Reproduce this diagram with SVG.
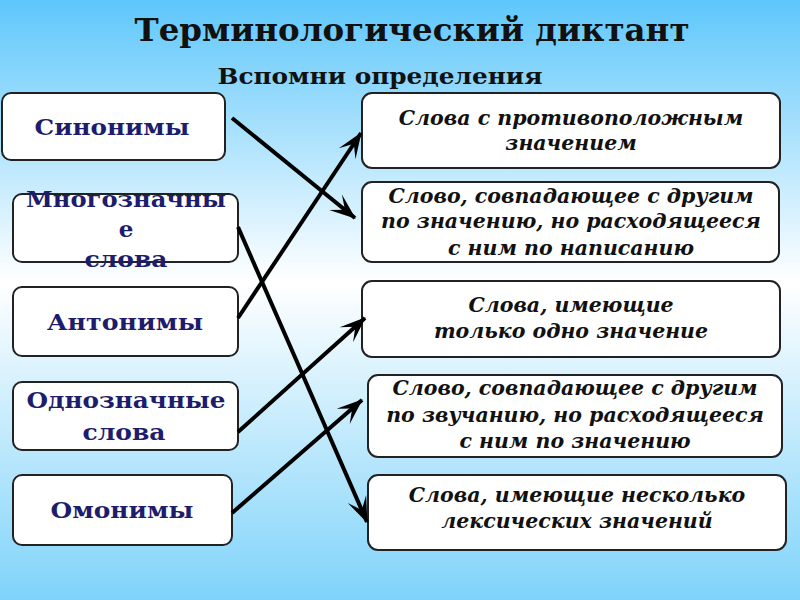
<svg xmlns="http://www.w3.org/2000/svg" width="800" height="600" viewBox="0 0 800 600">
<defs>
<linearGradient id="bg" x1="0" y1="0" x2="0" y2="1">
<stop offset="0" stop-color="#5ec7fb"/>
<stop offset="0.47" stop-color="#ffffff"/>
<stop offset="1" stop-color="#7fd3fa"/>
</linearGradient>
<marker id="ah" viewBox="-26 -11 28 22" refX="0" refY="0" markerWidth="28" markerHeight="22" markerUnits="userSpaceOnUse" orient="auto">
<path d="M1,0 L-25,-10 L-13,0 L-25,10 Z" fill="#000"/>
</marker>
<style>
.box{fill:#fff;stroke:#222;stroke-width:2}
.lt{font-family:"DejaVu Serif","Liberation Serif",serif;font-weight:bold;font-size:23px;fill:#1d1d6b;text-anchor:middle}
.rt{font-family:"DejaVu Serif","Liberation Serif",serif;font-weight:bold;font-style:italic;font-size:20.5px;fill:#111;text-anchor:middle}
.con{stroke:#000;stroke-width:4;fill:none;marker-end:url(#ah)}
.title{font-family:"DejaVu Serif","Liberation Serif",serif;font-weight:bold;fill:#111;text-anchor:middle}
</style>
</defs>
<rect x="0" y="0" width="800" height="600" fill="url(#bg)"/>
<text class="title" x="412" y="41" font-size="31" textLength="555" lengthAdjust="spacingAndGlyphs">Терминологический диктант</text>
<text class="title" x="380" y="84" font-size="22" textLength="325" lengthAdjust="spacingAndGlyphs">Вспомни определения</text>

<g id="n-synonyms">
<rect class="box" x="2" y="93" width="223" height="67" rx="9"/>
<text class="lt" x="112" y="135" textLength="155" lengthAdjust="spacingAndGlyphs">Синонимы</text>
</g>
<g id="n-polysemous">
<rect class="box" x="13" y="194" width="225" height="68" rx="9"/>
<text class="lt" x="126" y="207" textLength="200" lengthAdjust="spacingAndGlyphs">Многозначны</text>
<text class="lt" x="126" y="237">е</text>
<text class="lt" x="126" y="267" textLength="83" lengthAdjust="spacingAndGlyphs">слова</text>
</g>
<g id="n-antonyms">
<rect class="box" x="13" y="287" width="225" height="69" rx="9"/>
<text class="lt" x="125" y="330" textLength="156" lengthAdjust="spacingAndGlyphs">Антонимы</text>
</g>
<g id="n-monosemous">
<rect class="box" x="13" y="382" width="225" height="68" rx="9"/>
<text class="lt" x="126" y="408" textLength="199" lengthAdjust="spacingAndGlyphs">Однозначные</text>
<text class="lt" x="124" y="440" textLength="83" lengthAdjust="spacingAndGlyphs">слова</text>
</g>
<g id="n-homonyms">
<rect class="box" x="13" y="475" width="219" height="70" rx="9"/>
<text class="lt" x="122" y="518" textLength="143" lengthAdjust="spacingAndGlyphs">Омонимы</text>
</g>

<g id="d-opposite">
<rect class="box" x="362" y="93" width="418" height="75" rx="10"/>
<text class="rt" x="571" y="125">Слова с противоположным</text>
<text class="rt" x="571" y="150">значением</text>
</g>
<g id="d-spelling">
<rect class="box" x="362" y="182" width="417" height="80" rx="10"/>
<text class="rt" x="571" y="203">Слово, совпадающее с другим</text>
<text class="rt" x="571" y="228">по значению, но расходящееся</text>
<text class="rt" x="571" y="255">с ним по написанию</text>
</g>
<g id="d-single">
<rect class="box" x="362" y="281" width="418" height="76" rx="10"/>
<text class="rt" x="571" y="312">Слова, имеющие</text>
<text class="rt" x="571" y="338">только одно значение</text>
</g>
<g id="d-sound">
<rect class="box" x="368" y="375" width="414" height="82" rx="10"/>
<text class="rt" x="575" y="395">Слово, совпадающее с другим</text>
<text class="rt" x="575" y="422">по звучанию, но расходящееся</text>
<text class="rt" x="575" y="448">с ним по значению</text>
</g>
<g id="d-several">
<rect class="box" x="368" y="475" width="418" height="75" rx="10"/>
<text class="rt" x="577" y="502">Слова, имеющие несколько</text>
<text class="rt" x="577" y="528">лексических значений</text>
</g>

<g id="connectors">
<line class="con" x1="232" y1="118" x2="355" y2="218"/>
<line class="con" x1="238" y1="227" x2="367" y2="522"/>
<line class="con" x1="238" y1="318" x2="361" y2="133"/>
<line class="con" x1="238" y1="432" x2="365" y2="318"/>
<line class="con" x1="232" y1="513" x2="362" y2="400"/>
</g>
</svg>
